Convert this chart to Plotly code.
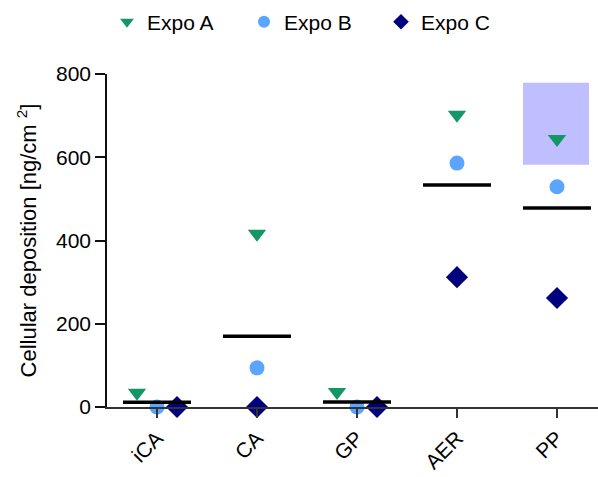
import plotly.graph_objects as go

CATEGORIES = ["iCA", "CA", "GP", "AER", "PP"]
EXPO_A = [34, 416, 36, 702, 644]
EXPO_B = [0, 94, 0, 586, 529]
EXPO_C = [0, 0, 0, 312, 262]

# horizontal jitter used where the points would overlap near zero
JITTER = {
    "Expo A": [-0.2, 0, -0.2, 0, 0],
    "Expo B": [0, 0, 0, 0, 0],
    "Expo C": [0.2, 0, 0.2, 0, 0],
}
SERIES = {"Expo A": EXPO_A, "Expo B": EXPO_B, "Expo C": EXPO_C}
STYLE = {
    "Expo A": {"symbol": "triangle-down", "color": "#139766", "size": 16},
    "Expo B": {"symbol": "circle", "color": "#5AA5FF", "size": 15},
    "Expo C": {"symbol": "diamond", "color": "#00007F", "size": 17},
}
HIGHLIGHT = {"x0": 3.66, "x1": 4.32, "y0": 582, "y1": 779}

FONT = "Arial, Liberation Sans, sans-serif"

fig = go.Figure()

for name, values in SERIES.items():
    st = STYLE[name]
    fig.add_scatter(
        x=[i + d for i, d in enumerate(JITTER[name])],
        y=values,
        mode="markers",
        name=name,
        cliponaxis=False,
        marker={"symbol": st["symbol"], "color": st["color"], "size": st["size"], "line": {"width": 0}},
    )

# mean bars
mx, my = [], []
for i in range(len(CATEGORIES)):
    m = (EXPO_A[i] + EXPO_B[i] + EXPO_C[i]) / 3
    mx += [i - 0.34, i + 0.34, None]
    my += [m, m, None]
fig.add_scatter(x=mx, y=my, mode="lines", line={"color": "black", "width": 3.5},
                showlegend=False, hoverinfo="skip", cliponaxis=False)

fig.add_shape(type="rect", xref="x", yref="y", layer="below",
              fillcolor="rgba(0,0,255,0.25)", line={"width": 0}, **HIGHLIGHT)

fig.update_layout(
    width=598,
    height=477,
    margin={"l": 107, "r": 0, "t": 74, "b": 70},
    paper_bgcolor="white",
    plot_bgcolor="white",
    font={"family": FONT, "color": "black", "size": 21},
    showlegend=True,
    legend={
        "orientation": "h",
        "x": 0.0,
        "xanchor": "left",
        "y": 1.156,
        "yanchor": "middle",
        "font": {"size": 21},
        "entrywidth": 92,
        "itemsizing": "constant",
    },
    xaxis={
        "range": [-0.5, 4.41],
        "tickvals": list(range(len(CATEGORIES))),
        "ticktext": CATEGORIES,
        "tickangle": -45,
        "showline": True,
        "linecolor": "#333",
        "linewidth": 1.5,
        "ticks": "outside",
        "ticklen": 9,
        "tickwidth": 1.5,
        "tickcolor": "#333",
        "showgrid": False,
        "zeroline": False,
        "tickfont": {"size": 21},
        "automargin": False,
    },
    yaxis={
        "range": [0, 800],
        "tickvals": [0, 200, 400, 600, 800],
        "showline": True,
        "linecolor": "#111",
        "linewidth": 1.5,
        "ticks": "outside",
        "ticklen": 10,
        "tickwidth": 1.5,
        "tickcolor": "#111",
        "showgrid": False,
        "zeroline": False,
        "tickfont": {"size": 21},
        "title": {"text": "Cellular deposition [ng/cm <sup>2</sup>]", "font": {"size": 22}, "standoff": 13},
        "automargin": False,
    },
)

fig.write_html(
    "out.html",
    config={"displayModeBar": False},
    post_script="document.body.style.margin='0px';",
)
